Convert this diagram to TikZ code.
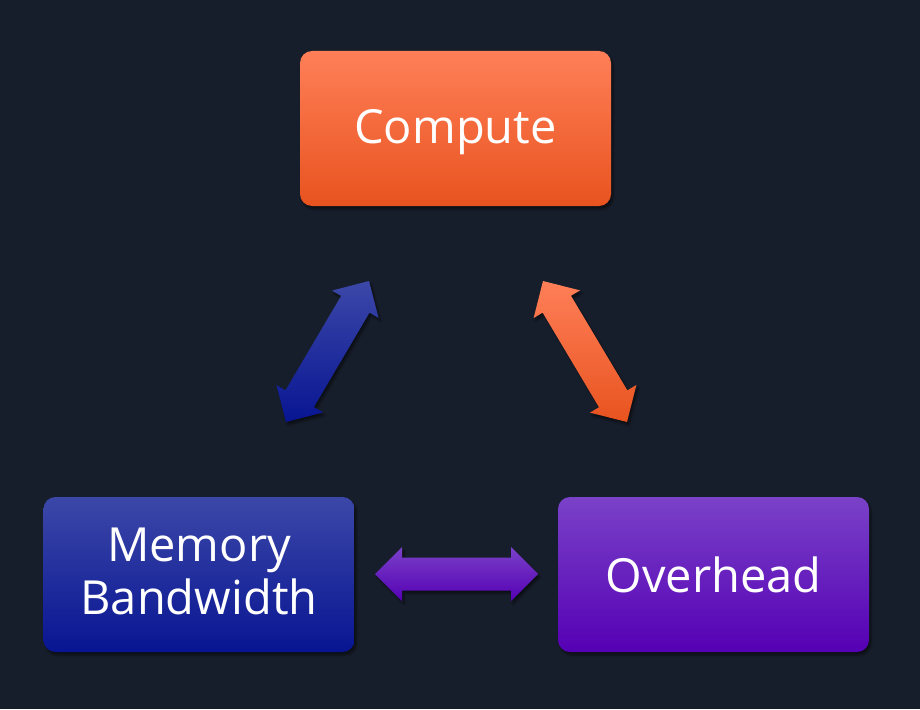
\documentclass[tikz,border=0pt]{standalone}
\usepackage{fontspec}
\setmainfont{Open Sans}
\usetikzlibrary{calc,shadows.blur}
\definecolor{bg}{HTML}{171E2B}
\definecolor{cTop}{HTML}{FF7F58}
\definecolor{cMid}{HTML}{FD6630}
\definecolor{cBot}{HTML}{E8531F}
\definecolor{mTop}{HTML}{3C48A8}
\definecolor{mMid}{HTML}{0E1C98}
\definecolor{mBot}{HTML}{081592}
\definecolor{oTop}{HTML}{7A42C8}
\definecolor{oMid}{HTML}{5C08BA}
\definecolor{oBot}{HTML}{5500B4}
\tikzset{
  box/.style={rounded corners=12pt, minimum width=311pt, minimum height=155pt,
    text=white, align=center, font=\fontsize{47}{53}\selectfont,
    blur shadow={shadow xshift=2pt, shadow yshift=-3pt, shadow opacity=50, shadow blur steps=6}},
  arr/.style={blur shadow={shadow xshift=2pt, shadow yshift=-3pt, shadow opacity=50, shadow blur steps=6}}
}
\newcommand\dblarrow[3]{%
  \shade[arr,#3] (#1)
    -- ($(#1)!27pt!(#2)!27pt!90:(#2)$)
    -- ($(#1)!27pt!(#2)!16.5pt!90:(#2)$)
    -- ($(#2)!27pt!(#1)!16.5pt!-90:(#1)$)
    -- ($(#2)!27pt!(#1)!27pt!-90:(#1)$)
    -- (#2)
    -- ($(#2)!27pt!(#1)!27pt!90:(#1)$)
    -- ($(#2)!27pt!(#1)!16.5pt!90:(#1)$)
    -- ($(#1)!27pt!(#2)!16.5pt!-90:(#2)$)
    -- ($(#1)!27pt!(#2)!27pt!-90:(#2)$)
    -- cycle;}
\begin{document}
\begin{tikzpicture}[x=1pt,y=-1pt]
\fill[bg] (0,0) rectangle (920,709);
\useasboundingbox (0,0) rectangle (920,709);
\node[box, top color=cTop, middle color=cMid, bottom color=cBot] (compute) at (455.5,128.5) {\raisebox{-4pt}[\height][\depth]{Compute}};
\node[box, top color=mTop, middle color=mMid, bottom color=mBot] (memory) at (199,574.5) {\raisebox{-3pt}[\height][\depth]{\begin{tabular}{@{}c@{}}Memory\\Bandwidth\end{tabular}}};
\node[box, top color=oTop, middle color=oMid, bottom color=oBot] (overhead) at (713.5,574.5) {Overhead};
\coordinate (b1) at (286,422);
\coordinate (b2) at (369,281);
\coordinate (o1) at (543,281);
\coordinate (o2) at (627,422);
\coordinate (p1) at (375,574);
\coordinate (p2) at (538,574);
\dblarrow{b1}{b2}{top color=mTop, bottom color=mBot}
\dblarrow{o1}{o2}{top color=cTop, bottom color=cBot}
\dblarrow{p1}{p2}{top color=oTop, bottom color=oBot}
\end{tikzpicture}
\end{document}
